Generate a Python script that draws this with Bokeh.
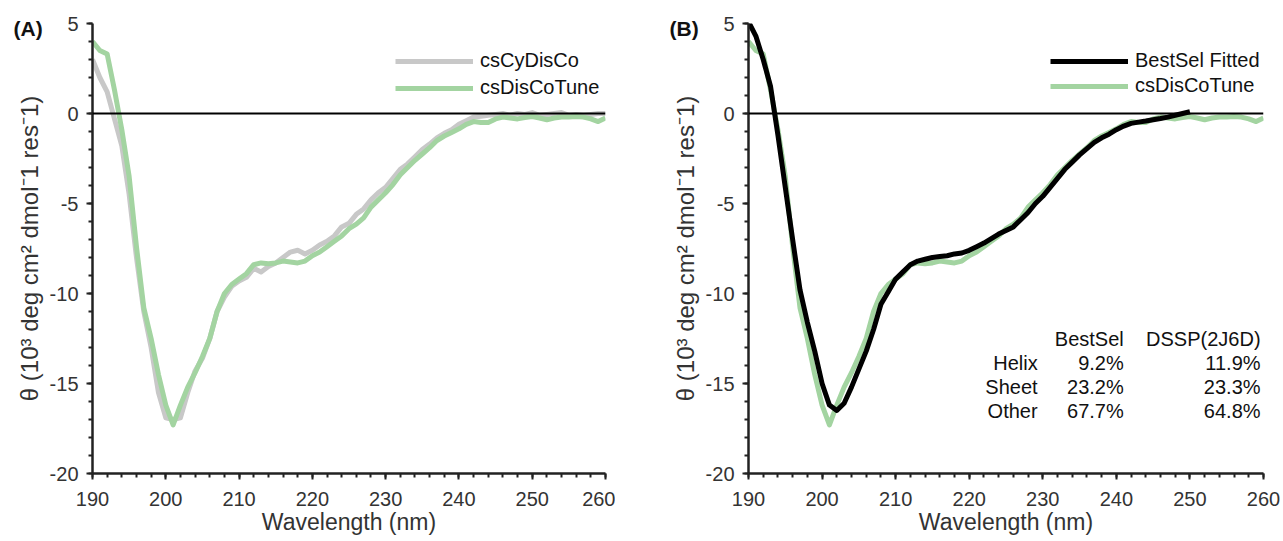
from bokeh.plotting import figure
from bokeh.layouts import row
from bokeh.models import (Span, Label, Legend, LegendItem, SingleIntervalTicker, Range1d,
                          PrintfTickFormatter)
from bokeh.embed import file_html
from bokeh.resources import INLINE

# ---------------- data ----------------
wavelength = list(range(190, 261))          # nm, 1-nm steps
wavelength_fit = list(range(190, 251))      # BestSel fit range

cs_disco_tune = [4.0, 3.5, 3.3, 1.3, -0.9, -3.5, -7.4, -10.8, -12.5, -14.5,
                 -16.2, -17.3, -16.2, -15.2, -14.4, -13.5, -12.5, -11.0, -10.0, -9.5,
                 -9.2, -8.9, -8.4, -8.3, -8.35, -8.3, -8.2, -8.25, -8.3, -8.2,
                 -7.9, -7.7, -7.4, -7.1, -6.8, -6.4, -6.15, -5.8, -5.2, -4.8,
                 -4.4, -3.95, -3.4, -3.0, -2.6, -2.25, -1.9, -1.5, -1.25, -1.05,
                 -0.85, -0.6, -0.45, -0.5, -0.5, -0.3, -0.2, -0.25, -0.3, -0.22,
                 -0.17, -0.25, -0.35, -0.25, -0.2, -0.2, -0.17, -0.2, -0.3, -0.45, -0.25]

cs_cy_disco = [3.0, 2.0, 1.2, -0.3, -1.8, -4.5, -8.0, -11.0, -13.0, -15.5,
               -16.9, -17.0, -16.9, -15.5, -14.3, -13.6, -12.5, -11.0, -10.2, -9.6,
               -9.3, -9.1, -8.6, -8.8, -8.5, -8.3, -8.0, -7.7, -7.6, -7.8,
               -7.6, -7.3, -7.1, -6.8, -6.3, -6.1, -5.6, -5.3, -4.8, -4.4,
               -4.1, -3.6, -3.1, -2.8, -2.4, -2.0, -1.7, -1.35, -1.1, -0.9,
               -0.6, -0.4, -0.2, -0.15, -0.1, -0.05, 0.0, -0.1, 0.0, -0.05,
               0.05, -0.1, -0.05, 0.0, 0.05, -0.1, -0.05, -0.1, -0.05, 0.0, 0.0]

bestsel_fit = [5.1, 4.3, 3.0, 1.5, -1.2, -4.1, -7.0, -9.8, -11.6, -13.2,
               -15.0, -16.2, -16.5, -16.1, -15.2, -14.2, -13.2, -12.0, -10.6, -9.9,
               -9.2, -8.8, -8.4, -8.2, -8.1, -8.0, -7.95, -7.9, -7.8, -7.75,
               -7.6, -7.4, -7.2, -6.95, -6.7, -6.5, -6.3, -5.9, -5.5, -5.0,
               -4.6, -4.1, -3.6, -3.1, -2.7, -2.3, -1.95, -1.6, -1.35, -1.15,
               -0.9, -0.7, -0.55, -0.48, -0.42, -0.35, -0.28, -0.2, -0.1, 0.0, 0.1]

table_header = ["BestSel", "DSSP(2J6D)"]
table_rows = ["Helix", "Sheet", "Other"]
table_bestsel = ["9.2%", "23.2%", "67.7%"]
table_dssp = ["11.9%", "23.3%", "64.8%"]

GREEN = "#a3d4a1"
GRAY = "#c8c8c8"
FONT = "Liberation Sans"


def make_fig(frame_w, min_left, min_right):
    p = figure(frame_width=frame_w, frame_height=450, min_border_left=min_left,
               min_border_right=min_right, min_border_top=23, min_border_bottom=66,
               x_range=Range1d(190, 260), y_range=Range1d(-20, 5),
               output_backend="svg", toolbar_location=None)
    p.outline_line_color = None
    p.grid.visible = False
    p.xaxis.ticker = SingleIntervalTicker(interval=10, num_minor_ticks=5)
    p.yaxis.ticker = SingleIntervalTicker(interval=5, num_minor_ticks=5)
    p.xaxis.formatter = PrintfTickFormatter(format="%d")
    p.yaxis.formatter = PrintfTickFormatter(format="%d")
    for ax in (p.xaxis[0], p.yaxis[0]):
        ax.axis_line_width = 2.5
        ax.axis_line_color = "#222222"
        ax.major_tick_line_width = 2
        ax.minor_tick_line_width = 2
        ax.major_tick_line_color = "#222222"
        ax.minor_tick_line_color = "#222222"
        ax.major_tick_out = 6
        ax.major_tick_in = 0
        ax.minor_tick_out = 4
        ax.minor_tick_in = 0
        ax.major_label_text_font = FONT
        ax.major_label_text_font_size = "20px"
        ax.major_label_text_color = "#333333"
        ax.axis_label_text_font = FONT
        ax.axis_label_text_font_style = "normal"
        ax.axis_label_text_color = "#333333"
    p.xaxis.axis_label_text_font_size = "23px"
    p.yaxis.axis_label_text_font_size = "24px"
    p.xaxis.major_label_standoff = 12
    p.xaxis.axis_label_standoff = 0
    p.yaxis.major_label_standoff = 8
    p.yaxis.axis_label_standoff = 4
    p.xaxis.axis_label = "Wavelength (nm)"
    p.yaxis.axis_label = "θ (10³ deg cm² dmol⁻1 res⁻1)"
    p.add_layout(Span(location=0, dimension="width", line_color="black", line_width=2))
    return p


def panel_tag(p, text):
    p.add_layout(Label(x=190, y=5, x_offset=-79, y_offset=-5, text=text, text_font=FONT,
                       text_font_size="21px", text_font_style="bold",
                       text_baseline="middle", text_color="#111111"), "above")


# ---------------- panel A ----------------
pa = make_fig(513, 92, 10)
r_gray = pa.line(wavelength, cs_cy_disco, line_color=GRAY, line_width=5, line_join="round")
r_green = pa.line(wavelength, cs_disco_tune, line_color=GREEN, line_width=5, line_join="round")
leg_a = Legend(items=[LegendItem(label="csCyDisCo", renderers=[r_gray]),
                      LegendItem(label="csDisCoTune", renderers=[r_green])],
               location=(303, 374), glyph_width=78, glyph_height=20, label_height=20,
               label_standoff=7, spacing=4, padding=0, margin=0, border_line_color=None,
               background_fill_alpha=0, label_text_font=FONT,
               label_text_font_size="20px", label_text_color="#111111")
pa.add_layout(leg_a)
panel_tag(pa, "(A)")

# ---------------- panel B ----------------
pb = make_fig(515, 133, 20)
r_green_b = pb.line(wavelength, cs_disco_tune, line_color=GREEN, line_width=5, line_join="round")
r_black = pb.line(wavelength_fit, bestsel_fit, line_color="black", line_width=5, line_join="round")
leg_b = Legend(items=[LegendItem(label="BestSel Fitted", renderers=[r_black]),
                      LegendItem(label="csDisCoTune", renderers=[r_green_b])],
               location=(302, 376), glyph_width=78, glyph_height=20, label_height=20,
               label_standoff=7, spacing=2, padding=0, margin=0, border_line_color=None,
               background_fill_alpha=0, label_text_font=FONT,
               label_text_font_size="20px", label_text_color="#111111")
pb.add_layout(leg_b)
panel_tag(pb, "(B)")

# secondary-structure table (positions are layout constants in data units)
col_x = [229.3, 241.0, 259.6]
row_y = [-12.5, -13.85, -15.2, -16.5]
for txt, cx in zip(table_header, col_x[1:]):
    pb.add_layout(Label(x=cx, y=row_y[0], text=txt, text_align="right", text_baseline="middle",
                        text_font=FONT, text_font_size="20px", text_color="#111111"))
for i, name in enumerate(table_rows):
    for txt, cx in zip([name, table_bestsel[i], table_dssp[i]], col_x):
        pb.add_layout(Label(x=cx, y=row_y[i + 1], text=txt, text_align="right",
                            text_baseline="middle", text_font=FONT, text_font_size="20px",
                            text_color="#111111"))

layout = row(pa, pb)
open("out.html", "w").write(file_html(layout, INLINE))
